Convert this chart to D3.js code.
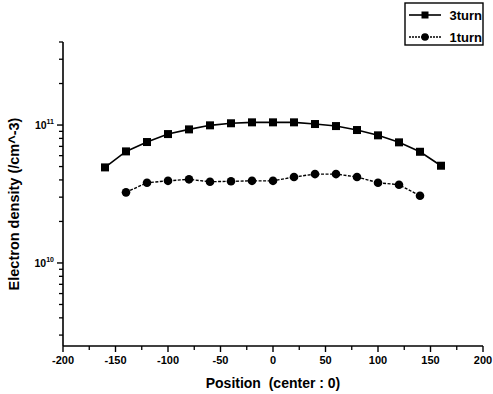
<!DOCTYPE html>
<html>
<head>
<meta charset="utf-8">
<script src="https://cdn.jsdelivr.net/npm/d3@7"></script>
<style>
  body { margin: 0; background: #fff; }
  svg { font-family: Arial, "Liberation Sans", sans-serif; }
</style>
</head>
<body>
<div id="chart"></div>
<script>
// data
const pos3 = [-160, -140, -120, -100, -80, -60, -40, -20, 0, 20, 40, 60, 80, 100, 120, 140, 160]
const turn3 = [4.93e10, 6.44e10, 7.53e10, 8.6e10, 9.3e10, 9.95e10, 1.03e11, 1.046e11, 1.046e11,
  1.046e11, 1.017e11, 9.83e10, 9.2e10, 8.42e10, 7.49e10, 6.4e10, 5.07e10]
const pos1 = [-140, -120, -100, -80, -60, -40, -20, 0, 20, 40, 60, 80, 100, 120, 140]
const turn1 = [3.25e10, 3.82e10, 3.94e10, 4.04e10, 3.88e10, 3.91e10, 3.94e10, 3.94e10,
  4.2e10, 4.41e10, 4.41e10, 4.2e10, 3.82e10, 3.69e10, 3.07e10]
const xTicks = [-200, -150, -100, -50, 0, 50, 100, 150, 200]
const yMajor = [1e10, 1e11]
const seriesNames = ['3turn', '1turn']

const width = 493
const height = 394

const svg = d3
  .select('#chart')
  .append('svg')
  .attr('width', width)
  .attr('height', height)

const x = d3.scaleLinear().domain([-200, 200]).range([63, 483])
const y = d3.scaleLog().domain([2.5e9, 4e11]).range([346, 42])

// x axis
const xAxis = svg.append('g').attr('transform', 'translate(0,346)')
xAxis.append('line')
  .attr('x1', x(-200)).attr('x2', x(200))
  .attr('stroke', 'black').attr('stroke-width', 1.6)
xAxis.selectAll('.major')
  .data(xTicks)
  .enter().append('line')
  .attr('x1', d => x(d)).attr('x2', d => x(d))
  .attr('y1', 0).attr('y2', 6)
  .attr('stroke', 'black').attr('stroke-width', 1.4)
xAxis.selectAll('.minor')
  .data(d3.range(-175, 200, 50))
  .enter().append('line')
  .attr('x1', d => x(d)).attr('x2', d => x(d))
  .attr('y1', 0).attr('y2', 4)
  .attr('stroke', 'black').attr('stroke-width', 1.3)
xAxis.selectAll('text')
  .data(xTicks)
  .enter().append('text')
  .attr('x', d => x(d))
  .attr('y', 18)
  .attr('text-anchor', 'middle')
  .attr('font-weight', 'bold')
  .style('font-size', '11px')
  .text(d => d)

// y axis
const yAxis = svg.append('g').attr('transform', 'translate(63,0)')
yAxis.append('line')
  .attr('y1', y(4e11)).attr('y2', y(2.5e9))
  .attr('stroke', 'black').attr('stroke-width', 1.6)
const minors = []
;[1e9, 1e10, 1e11].forEach(b => {
  for (let k = 2; k <= 9; k++) {
    const v = b * k
    if (v >= 2.5e9 && v <= 4e11) minors.push(v)
  }
})
yAxis.selectAll('.minor')
  .data(minors)
  .enter().append('line')
  .attr('x1', -4).attr('x2', 0)
  .attr('y1', d => y(d)).attr('y2', d => y(d))
  .attr('stroke', 'black').attr('stroke-width', 1.3)
yAxis.selectAll('.major')
  .data(yMajor)
  .enter().append('line')
  .attr('x1', -6).attr('x2', 0)
  .attr('y1', d => y(d)).attr('y2', d => y(d))
  .attr('stroke', 'black').attr('stroke-width', 1.4)
const ylab = yAxis.selectAll('.ylab')
  .data(yMajor)
  .enter().append('text')
  .attr('x', -9)
  .attr('y', d => y(d) + 4)
  .attr('text-anchor', 'end')
  .attr('font-weight', 'bold')
  .style('font-size', '10.5px')
ylab.append('tspan').text('10')
ylab.append('tspan')
  .attr('dy', -5)
  .style('font-size', '7px')
  .text(d => Math.round(Math.log10(d)))

// axis titles
svg.append('text')
  .attr('x', 273)
  .attr('y', 388)
  .attr('text-anchor', 'middle')
  .attr('font-weight', 'bold')
  .style('font-size', '14px')
  .style('white-space', 'pre')
  .text('Position  (center : 0)')
svg.append('text')
  .attr('transform', 'translate(19,204) rotate(-90)')
  .attr('text-anchor', 'middle')
  .attr('font-weight', 'bold')
  .style('font-size', '14.5px')
  .text('Electron density (/cm^-3)')

// lines
const line = d3.line().x(d => x(d[0])).y(d => y(d[1]))
const data3 = pos3.map((p, i) => [p, turn3[i]])
const data1 = pos1.map((p, i) => [p, turn1[i]])

svg.append('path')
  .datum(data3)
  .attr('d', line)
  .attr('fill', 'none')
  .attr('stroke', 'black')
  .attr('stroke-width', 1.6)
svg.append('path')
  .datum(data1)
  .attr('d', line)
  .attr('fill', 'none')
  .attr('stroke', 'black')
  .attr('stroke-width', 1.4)
  .attr('stroke-dasharray', '3,1.5')

svg.selectAll('.sq')
  .data(data3)
  .enter().append('rect')
  .attr('x', d => x(d[0]) - 4)
  .attr('y', d => y(d[1]) - 4)
  .attr('width', 8).attr('height', 8)
  .attr('fill', 'black')
svg.selectAll('.ci')
  .data(data1)
  .enter().append('circle')
  .attr('cx', d => x(d[0]))
  .attr('cy', d => y(d[1]))
  .attr('r', 4.3)
  .attr('fill', 'black')

// legend
const legend = svg.append('g')
legend.append('rect')
  .attr('x', 405).attr('y', 3)
  .attr('width', 78).attr('height', 42)
  .attr('fill', 'white')
  .attr('stroke', 'black').attr('stroke-width', 1.4)
seriesNames.forEach((name, i) => {
  const ly = 15 + i * 22
  legend.append('line')
    .attr('x1', 409).attr('x2', 441)
    .attr('y1', ly).attr('y2', ly)
    .attr('stroke', 'black')
    .attr('stroke-width', i === 0 ? 1.6 : 1.3)
    .attr('stroke-dasharray', i === 0 ? null : '2,1')
  if (i === 0) {
    legend.append('rect')
      .attr('x', 421.5).attr('y', ly - 3.5)
      .attr('width', 7).attr('height', 7)
      .attr('fill', 'black')
  } else {
    legend.append('circle')
      .attr('cx', 425).attr('cy', ly)
      .attr('r', 3.8)
      .attr('fill', 'black')
  }
  legend.append('text')
    .attr('x', 482)
    .attr('y', ly + 5)
    .attr('text-anchor', 'end')
    .attr('font-weight', 'bold')
    .style('font-size', '13px')
    .text(name)
})
</script>
</body>
</html>
